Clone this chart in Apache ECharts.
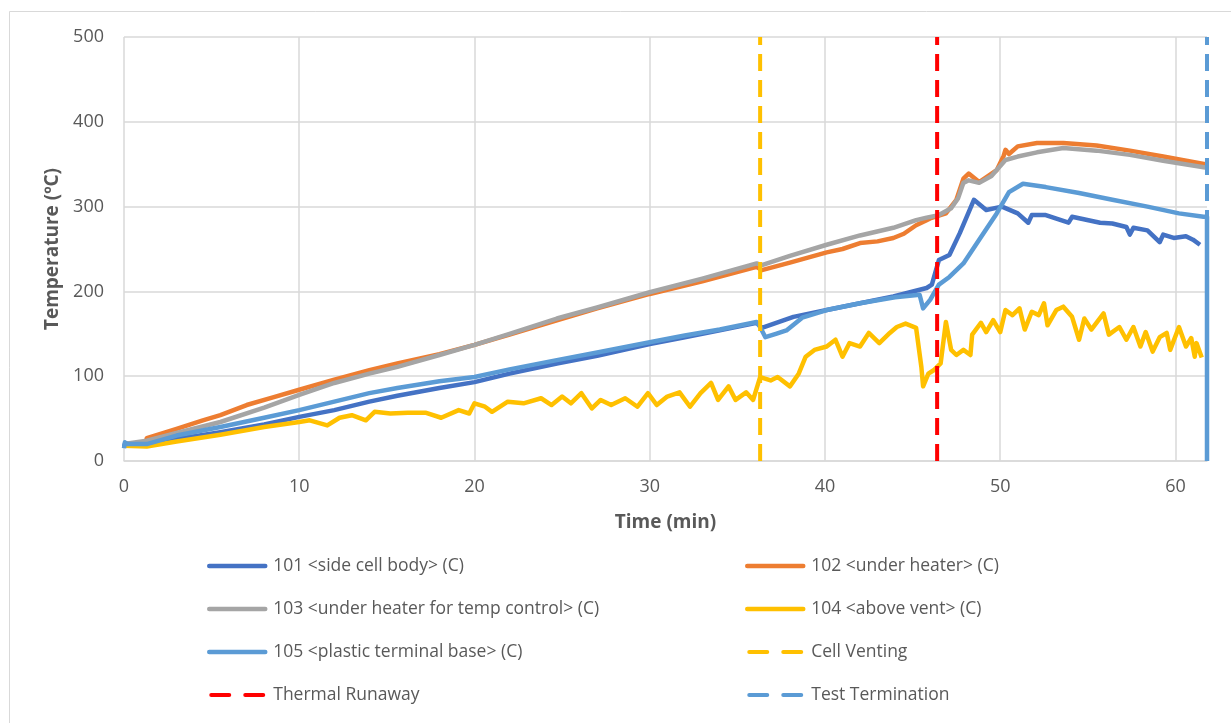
<!DOCTYPE html>
<html>
<head>
<meta charset="utf-8">
<script src="https://cdn.jsdelivr.net/npm/echarts@6/dist/echarts.min.js"></script>
<style>
  html, body { margin: 0; padding: 0; background: #ffffff; }
  #chart { width: 1231px; height: 723px; }
</style>
</head>
<body>
<div id="chart"></div>
<script>
// Thermocouple readings, temperature in ºC against elapsed time in minutes.
const t101 = [0, 0.05, 1.3, 3, 5.5, 8, 10, 12, 14, 15.6, 18, 20, 22, 24.7, 27, 30, 32, 34, 36.1, 36.4, 38.2, 40.1, 42, 43.9, 45.8, 46.1, 46.5, 47.1, 47.7, 48.5, 49.2, 50.1, 51, 51.6, 51.8, 52.6, 53.9, 54.1, 55.7, 56.4, 57.2, 57.4, 57.6, 58.4, 59.1, 59.3, 59.9, 60.6, 61, 61.4];
const v101 = [17, 20, 21, 26, 34, 43, 52, 60, 70, 77, 86, 93, 103, 115, 124, 138, 146, 154, 163, 157, 170, 178, 186, 194, 204, 208, 237, 243, 269, 308, 296, 300, 292, 281, 290, 290, 281, 288, 281, 280, 276, 267, 275, 272, 258, 267, 263, 265, 261, 255];

const t102 = [0, 1.25, 1.3, 3, 4.5, 5.5, 7, 8.5, 10, 12, 14, 15.6, 18, 20, 22, 24.7, 27, 30, 33, 36.1, 36.4, 38, 40.1, 41, 42, 43, 43.9, 44.5, 45.2, 45.8, 46, 46.9, 47.5, 47.9, 48.2, 48.8, 49.8, 50.2, 50.3, 50.5, 51, 52.1, 53.6, 55.5, 57.4, 59.3, 61.7];
const v102 = [20, 21, 27, 38, 48, 54, 66, 75, 84, 96, 107, 115, 126, 137, 149, 166, 180, 197, 212, 229, 225, 234, 246, 250, 257, 259, 263, 268, 278, 284, 286, 292, 308, 333, 339, 329, 343, 360, 367, 362, 371, 375, 375, 372, 366, 359, 350];

const t103 = [0, 1.3, 3, 5.5, 8, 10, 12, 14, 15.6, 18, 20, 22, 24.7, 27, 30, 33, 36.1, 36.4, 38, 40.1, 42, 43.9, 45.2, 45.8, 46.5, 47.2, 47.6, 47.9, 48.2, 48.8, 49.5, 50.3, 51, 52.1, 53.6, 55.5, 57.4, 59.3, 61.7];
const v103 = [20, 24, 33, 46, 63, 78, 92, 103, 111, 125, 137, 150, 168, 181, 199, 215, 233, 231, 242, 255, 266, 275, 284, 287, 290, 298, 310, 328, 331, 328, 336, 355, 359, 364, 369, 366, 361, 354, 346];

const t104 = [0, 1.3, 3, 5.5, 8, 10, 10.6, 11.6, 12.3, 13, 13.8, 14.3, 15.2, 16.2, 17.2, 18.1, 19.1, 19.7, 20, 20.6, 21, 21.9, 22.8, 23.8, 24.4, 25, 25.5, 26.1, 26.7, 27.2, 27.8, 28.6, 29.3, 29.9, 30.4, 31, 31.7, 32.3, 32.9, 33.5, 33.9, 34.5, 34.9, 35.5, 35.9, 36.3, 36.9, 37.3, 38, 38.5, 38.9, 39.4, 40.1, 40.6, 41, 41.4, 42, 42.5, 43.1, 43.7, 44.1, 44.6, 45.2, 45.5, 45.6, 45.9, 46.2, 46.6, 46.9, 47.2, 47.5, 47.9, 48.3, 48.4, 48.9, 49.2, 49.6, 50, 50.3, 50.7, 51.1, 51.4, 51.8, 52.2, 52.5, 52.7, 53.2, 53.6, 54.1, 54.5, 54.8, 55.2, 55.9, 56.2, 56.8, 57.2, 57.6, 58, 58.3, 58.7, 59.1, 59.5, 59.7, 60.2, 60.6, 60.9, 61.1, 61.2, 61.5];
const v104 = [18, 17, 23, 31, 40, 46, 48, 42, 51, 54, 48, 58, 56, 57, 57, 51, 60, 56, 68, 64, 58, 70, 68, 74, 66, 76, 68, 80, 62, 72, 66, 74, 64, 80, 66, 76, 81, 64, 80, 92, 72, 88, 72, 81, 72, 99, 95, 99, 88, 103, 123, 131, 135, 143, 123, 139, 135, 151, 139, 151, 158, 162, 157, 111, 88, 103, 107, 115, 164, 131, 125, 131, 125, 149, 163, 152, 166, 152, 178, 172, 180, 155, 176, 172, 186, 160, 178, 182, 170, 143, 168, 155, 174, 149, 158, 143, 158, 135, 152, 129, 146, 151, 131, 158, 135, 145, 123, 139, 122];

const t105 = [0, 0.05, 0.2, 1.3, 3, 5.5, 8, 10, 12, 14, 15.6, 18, 20, 22, 24.7, 27, 30, 32, 34, 36.1, 36.3, 36.6, 37.2, 37.8, 38.7, 40.1, 42, 44, 45.4, 45.6, 46, 46.5, 47.1, 47.9, 48.8, 49.8, 50.5, 51.3, 52.6, 54.5, 56.4, 58.4, 60.2, 61.6, 61.8, 61.8];
const v105 = [15, 22, 20, 20, 30, 40, 51, 60, 70, 80, 86, 94, 99, 108, 119, 128, 140, 148, 155, 164, 158, 146, 150, 154, 169, 178, 186, 193, 196, 180, 190, 208, 217, 233, 261, 292, 317, 327, 323, 316, 308, 300, 292, 288, 288, 0];

// Event markers (minutes)
const ventTime = 36.3;
const runawayTime = 46.4;
const endTime = 61.8;

const seriesNames = [
  '101 <side cell body> (C)',
  '102 <under heater> (C)',
  '103 <under heater for temp control> (C)',
  '104 <above vent> (C)',
  '105 <plastic terminal base> (C)',
  'Cell Venting',
  'Thermal Runaway',
  'Test Termination'
];
const seriesColors = ['#4472C4', '#ED7D31', '#A5A5A5', '#FFC000', '#5B9BD5', '#FFC000', '#FF0000', '#5B9BD5'];

const xTickStep = 10;
const yTicks = [0, 100, 200, 300, 400, 500];

const zip = (ts, vs) => ts.map((t, i) => [t, vs[i]]);
const vertical = (t) => [[t, yTicks[0]], [t, yTicks[yTicks.length - 1]]];

const traces = [zip(t101, v101), zip(t102, v102), zip(t103, v103), zip(t104, v104), zip(t105, v105)];
const markers = [vertical(ventTime), vertical(runawayTime), vertical(endTime)];

const FONT = '"Open Sans", "Noto Sans", sans-serif';
const TEXT = '#595959';
const GRID = '#D9D9D9';

const series = [];
traces.forEach((d, i) => {
  series.push({
    name: seriesNames[i], type: 'line', data: d, symbol: 'none', silent: true,
    lineStyle: { color: seriesColors[i], width: 4.5, join: 'round' },
    itemStyle: { color: seriesColors[i] }
  });
});
markers.forEach((d, i) => {
  const k = i + 5;
  series.push({
    name: seriesNames[k], type: 'line', data: d, symbol: 'none', silent: true,
    lineStyle: { color: seriesColors[k], width: 4, type: [17, 9] },
    itemStyle: { color: seriesColors[k] }
  });
});

// Legend entries; the dashed keys show two short round-capped dashes.
const legendEntry = (i) => i >= 5
  ? { name: seriesNames[i], lineStyle: { type: [18, 16], cap: 'round', dashOffset: -2 } }
  : { name: seriesNames[i], lineStyle: { cap: 'round' } };

const legendCommon = {
  orient: 'vertical', itemWidth: 56, itemHeight: 14, itemGap: 25, padding: 0,
  lineStyle: { width: 'inherit' },
  itemStyle: { opacity: 0 },
  textStyle: { fontFamily: FONT, fontSize: 17.5, color: TEXT, lineHeight: 18, padding: [0, 0, 0, 3] },
  selectedMode: false
};

const chart = echarts.init(document.getElementById('chart'), null, { renderer: 'canvas' });
chart.setOption({
  animation: false,
  backgroundColor: '#ffffff',
  graphic: [{
    type: 'rect', silent: true,
    shape: { x: 9.5, y: 11.5, width: 1400, height: 900 },
    style: { fill: null, stroke: GRID, lineWidth: 1 }
  }],
  grid: { left: 124, right: 24, top: 37, bottom: 262 },
  xAxis: {
    type: 'value', min: 0, max: endTime, interval: xTickStep,
    name: 'Time (min)', nameLocation: 'middle', nameGap: 52,
    nameTextStyle: { fontFamily: FONT, fontSize: 19, fontWeight: 'bold', color: TEXT },
    axisLine: { show: true, lineStyle: { color: GRID, width: 1.5 } },
    axisTick: { show: false },
    axisLabel: { fontFamily: FONT, fontSize: 18, color: TEXT, margin: 17, showMaxLabel: false },
    splitLine: { show: true, showMaxLine: false, lineStyle: { color: GRID, width: 1.5 } }
  },
  yAxis: {
    type: 'value', min: yTicks[0], max: yTicks[yTicks.length - 1], interval: 100,
    name: 'Temperature (ºC)', nameLocation: 'middle', nameGap: 53,
    nameTextStyle: { fontFamily: FONT, fontSize: 19, fontWeight: 'bold', color: TEXT },
    axisLine: { show: false },
    axisTick: { show: false },
    axisLabel: { fontFamily: FONT, fontSize: 18, color: TEXT, margin: 20 },
    splitLine: { show: true, lineStyle: { color: GRID, width: 1.5 } }
  },
  legend: [
    Object.assign({}, legendCommon, { left: 207, top: 557, data: [0, 2, 4, 6].map(legendEntry) }),
    Object.assign({}, legendCommon, { left: 745, top: 557, data: [1, 3, 5, 7].map(legendEntry) })
  ],
  series: series
});
</script>
</body>
</html>
